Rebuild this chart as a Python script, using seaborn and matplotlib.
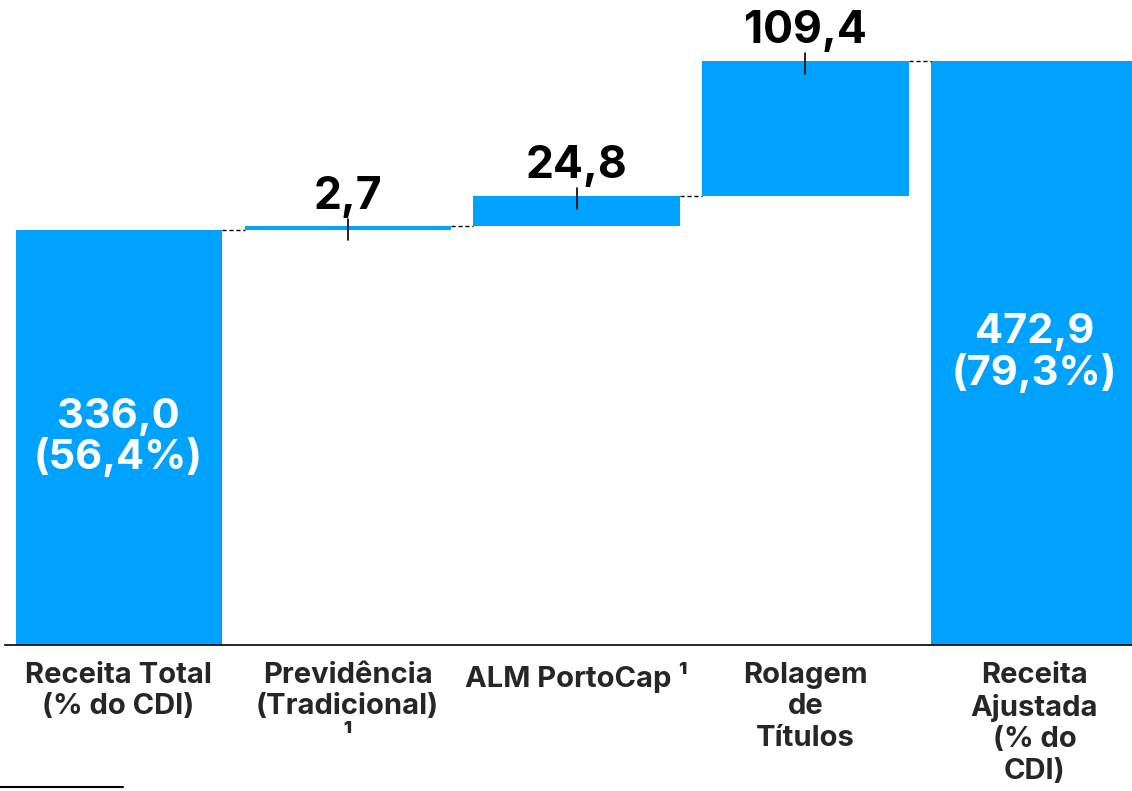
import numpy as np
import pandas as pd
import seaborn as sns
import matplotlib.pyplot as plt
from matplotlib.lines import Line2D

categories = ["Receita Total\n(% do CDI)", "Previdência\n(Tradicional)\n¹", "ALM PortoCap ¹",
              "Rolagem\nde\nTítulos", "Receita\nAjustada\n(% do\nCDI)"]
values = [336.0, 2.7, 24.8, 109.4, 472.9]
is_total = [True, False, False, False, True]
inside_labels = ["336,0\n(56,4%)", None, None, None, "472,9\n(79,3%)"]
delta_labels = [None, "2,7", "24,8", "109,4", None]

blue = "#00A2FF"

# waterfall bases
bases = []
running = 0.0
for v, t in zip(values, is_total):
    if t:
        bases.append(0.0)
        running = v
    else:
        bases.append(running)
        running += v
tops = [b + v for b, v in zip(bases, values)]

df = pd.DataFrame({"cat": categories, "value": values})

sns.set_style("white")
plt.rcParams['font.family'] = ['Inter', 'DejaVu Sans']

fig = plt.figure(figsize=(11.32, 7.91), dpi=100)
ax = fig.add_axes([5 / 1132, 146 / 791, 1 - 5 / 1132, 645 / 791])

sns.barplot(data=df, x="cat", y="value", bottom=bases, color=blue, saturation=1,
            width=0.9, linewidth=0, ax=ax)

ax.set_xlim(-0.496, 4.426)
ax.set_ylim(0, 522)

# connectors
for i in range(len(values) - 1):
    level = tops[i]
    ax.plot([i + 0.45, i + 1 - 0.45], [level, level], ls=(0, (3, 2)), color="black", lw=1)

# delta labels with small ticks
for i, lab in enumerate(delta_labels):
    if lab is None:
        continue
    ax.plot([i, i], [tops[i] - 11, tops[i] + 6], color="black", lw=1.2)
    ax.text(i, tops[i] + 7, lab, ha="center", va="bottom", fontsize=32,
            fontweight="bold", color="black")

for i, lab in enumerate(inside_labels):
    if lab is None:
        continue
    ax.text(i, values[i] / 2, lab, ha="center", va="center", fontsize=30,
            fontweight="bold", color="white", linespacing=1.05)

ax.set_xlabel("")
ax.set_ylabel("")
ax.set_yticks([])
ax.tick_params(axis="x", length=0, pad=12)
for t in ax.get_xticklabels():
    t.set_fontsize(21)
    t.set_fontweight("bold")
    t.set_linespacing(1.22)
    t.set_verticalalignment("top")

for s in ["top", "right", "left"]:
    ax.spines[s].set_visible(False)
ax.spines["bottom"].set_color("black")
ax.spines["bottom"].set_linewidth(1.2)

# footnote rule
fig.add_artist(Line2D([0, 123 / 1132], [4 / 791, 4 / 791], color="black", lw=1.5))

fig.savefig("out.png", dpi=100)
